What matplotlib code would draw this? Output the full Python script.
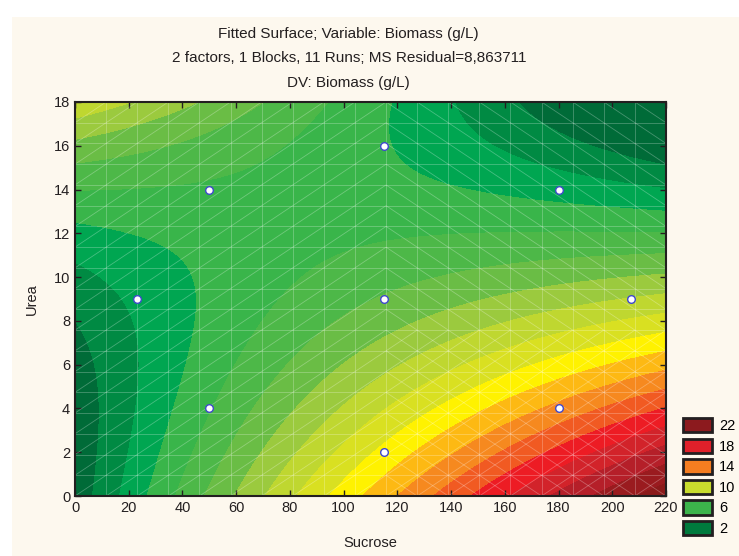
import numpy as np
import matplotlib
matplotlib.use('Agg')
import matplotlib.pyplot as plt
from matplotlib.patches import Patch, Rectangle
from matplotlib.collections import LineCollection

plt.rcParams['font.family'] = ['Liberation Sans', 'DejaVu Sans']

# fitted surface, coded units: u = (sucrose-115)/65, v = (urea-9)/5
# terms: 1, u, v, u^2, uv, v^2, u^3, u^2 v, u v^2, v^3
coef = [6.859, 1.941, -2.766, -0.266, -2.482, 0.630, 0.014, 0.125, -0.199, 0.115]

# design points (runs)
sucrose = [23, 50, 50, 115, 115, 115, 180, 180, 207]
urea = [9, 4, 14, 2, 9, 16, 4, 14, 9]

levels = [1.0, 2.15, 3.3, 4.45, 5.6, 6.75, 7.9, 9.05, 10.2, 11.35,
          12.5, 13.65, 14.8, 15.95, 17.1, 18.25, 19.4, 20.55]
band_colors = ['#006b38', '#006b38', '#008a43', '#00a651', '#39b54a', '#4db848', '#6abd45',
               '#9bca3e', '#bfd730', '#d9e021', '#fff200', '#fdb913', '#f6891f', '#f15a22',
               '#ed1c24', '#d2232a', '#b51f29', '#9a1b1f', '#8b1a1a']

legend_labels = ['22', '18', '14', '10', '6', '2']
legend_colors = ['#8c1a1e', '#e0202a', '#f57d20', '#c8dc2d', '#3cb44b', '#007a3d']

bg = '#fdf8ee'
ink = '#231f20'
fig = plt.figure(figsize=(7.39, 5.56), dpi=100, facecolor='white')
fig.patches.append(Rectangle((12 / 739, 0), 1, 1 - 17 / 556, transform=fig.transFigure,
                             facecolor=bg, edgecolor='none', zorder=-1))
ax = fig.add_axes([0.1015, 0.1079, 0.7997, 0.7087])

xs = np.linspace(0, 220, 221)
ys = np.linspace(0, 18, 181)
X, Y = np.meshgrid(xs, ys)
U = (X - 115) / 65
V = (Y - 9) / 5
terms = [np.ones_like(U), U, V, U**2, U*V, V**2, U**3, U**2*V, U*V**2, V**3]
Z = sum(c * t for c, t in zip(coef, terms))
ax.contourf(X, Y, Z, levels=levels, colors=band_colors, extend='both')

# light triangle mesh over the surface
xg = np.linspace(0, 220, 20)
yg = np.linspace(0, 18, 20)
segs = [[(x, 0), (x, 18)] for x in xg] + [[(0, y), (220, y)] for y in yg]
for i in range(19):
    for j in range(19):
        x0, x1, y0, y1 = xg[i], xg[i + 1], yg[j], yg[j + 1]
        xc, yc = (x0 + x1) / 2, (y0 + y1) / 2
        if xc < 115 or yc < 8:
            segs.append([(x0, y0), (x1, y1)])
        if xc >= 115:
            segs.append([(x0, y1), (x1, y0)])
ax.add_collection(LineCollection(segs, colors='white', alpha=0.28, linewidths=0.6))

ax.plot(sucrose, urea, 'o', ms=5.5, mfc='white', mec='#3f48cc', mew=1.0)

ax.set_xlim(0, 220)
ax.set_ylim(0, 18)
ax.set_xticks(range(0, 221, 20))
ax.set_yticks(range(0, 19, 2))
ax.tick_params(direction='in', top=True, right=True, length=4, width=1, labelsize=10.5, colors=ink)
for s in ax.spines.values():
    s.set_linewidth(1.5)
    s.set_color(ink)
ax.set_xlabel('Sucrose', fontsize=10.5, color=ink, labelpad=15)
ax.set_ylabel('Urea', fontsize=10.5, color=ink, labelpad=11)

tx = 0.472
fig.text(tx, 1 - 34 / 556, 'Fitted Surface; Variable: Biomass (g/L)', ha='center', va='center', fontsize=11, color=ink)
fig.text(tx, 1 - 58 / 556, '2 factors, 1 Blocks, 11 Runs; MS Residual=8,863711', ha='center', va='center', fontsize=11, color=ink)
fig.text(tx, 1 - 83 / 556, 'DV: Biomass (g/L)', ha='center', va='center', fontsize=11, color=ink)

handles = [Patch(facecolor=c, edgecolor=ink, linewidth=2) for c in legend_colors]
fig.legend(handles, legend_labels, loc='lower left', bbox_to_anchor=(0.924, 0.036), frameon=False,
           handlelength=2.0, handleheight=1.15, labelspacing=0.37, fontsize=10.5, handletextpad=0.5,
           borderpad=0, borderaxespad=0)

fig.savefig('out.png', dpi=100, facecolor='white')
